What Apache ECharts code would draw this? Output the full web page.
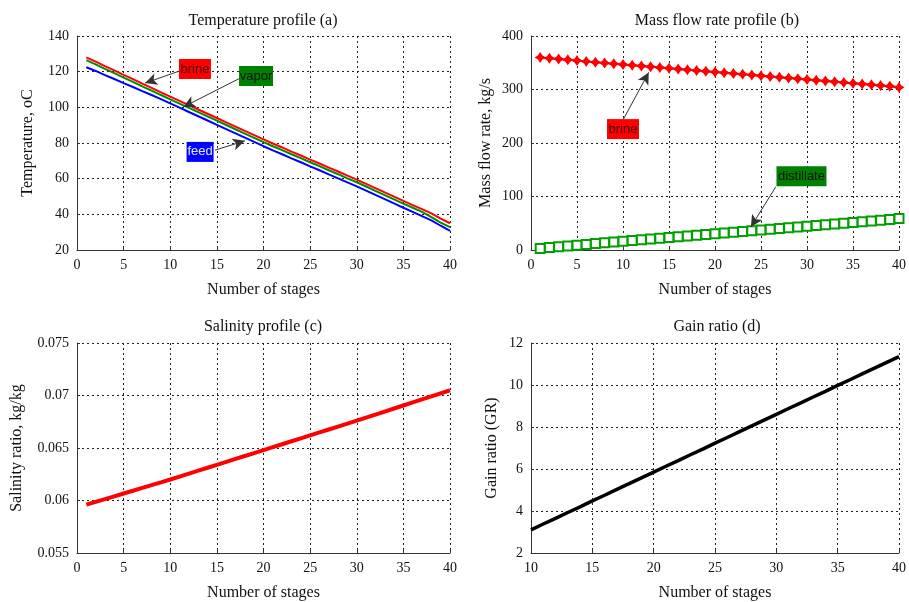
<!DOCTYPE html>
<html>
<head>
<meta charset="utf-8">
<script src="https://cdn.jsdelivr.net/npm/echarts@6/dist/echarts.min.js"></script>
<style>
  html, body { margin: 0; padding: 0; background: #fff; }
  #main { width: 909px; height: 602px; }
</style>
</head>
<body>
<div id="main"></div>
<script>
// stages 1..40 (panels a, b, c)
const stages = [1,2,3,4,5,6,7,8,9,10,11,12,13,14,15,16,17,18,19,20,
  21,22,23,24,25,26,27,28,29,30,31,32,33,34,35,36,37,38,39,40];
// stages 10..40 (panel d)
const gainStages = [10,11,12,13,14,15,16,17,18,19,20,21,22,23,24,25,
  26,27,28,29,30,31,32,33,34,35,36,37,38,39,40];

// (a) temperature profile, oC
const brineTemp = [128.0,125.6,123.1,120.7,118.2,115.8,113.3,110.9,108.4,106.0,
  103.6,101.2,98.8,96.4,94.0,91.6,89.2,86.8,84.4,82.0,
  79.7,77.5,75.2,73.0,70.7,68.5,66.2,64.0,61.7,59.5,
  57.1,54.7,52.3,49.9,47.5,45.2,42.9,40.5,37.6,35.0];
const vaporTemp = [126.5,124.1,121.6,119.2,116.7,114.3,111.8,109.4,106.9,104.5,
  102.1,99.7,97.3,94.9,92.5,90.1,87.7,85.3,82.9,80.5,
  78.2,76.0,73.7,71.5,69.2,67.0,64.7,62.5,60.2,58.0,
  55.6,53.2,50.8,48.4,46.0,43.7,41.4,38.4,35.3,32.8];
const feedTemp = [122.5,120.4,118.1,115.9,113.6,111.4,109.1,106.9,104.6,102.2,
  99.8,97.4,95.0,92.6,90.2,87.8,85.4,83.0,80.6,78.2,
  75.9,73.7,71.4,69.2,66.9,64.7,62.4,60.2,57.9,55.7,
  53.3,50.9,48.5,46.1,43.7,41.4,39.0,36.6,33.6,30.7];

// (b) mass flow rate, kg/s
const brineFlow = [360.0,358.5,357.0,355.5,354.0,352.5,351.0,349.6,348.2,346.8,
  345.4,344.0,342.6,341.2,339.8,338.4,337.0,335.6,334.2,332.8,
  331.4,330.0,328.6,327.2,325.8,324.4,323.0,321.6,320.2,318.8,
  317.4,316.0,314.6,313.2,311.8,310.4,309.0,307.6,306.0,304.0];
const distillateFlow = [3.0,4.5,6.0,7.5,9.0,10.5,12.0,13.4,14.8,16.2,
  17.6,19.0,20.4,21.8,23.2,24.6,26.0,27.4,28.8,30.2,
  31.6,33.0,34.4,35.8,37.2,38.6,40.0,41.4,42.8,44.2,
  45.6,47.0,48.4,49.8,51.2,52.6,54.0,55.4,57.0,59.0];

// (c) salinity ratio, kg/kg
const salinity = [0.05960,0.05987,0.06013,0.06040,0.06067,0.06093,0.06120,0.06147,0.06173,0.06200,
  0.06228,0.06256,0.06284,0.06312,0.06340,0.06368,0.06396,0.06424,0.06452,0.06480,
  0.06508,0.06536,0.06564,0.06592,0.06620,0.06648,0.06676,0.06704,0.06732,0.06760,
  0.06789,0.06818,0.06847,0.06876,0.06905,0.06934,0.06963,0.06992,0.07021,0.07050];

// (d) gain ratio
const gainRatio = [3.10,3.38,3.65,3.93,4.20,4.48,4.75,5.03,5.30,5.58,
  5.85,6.13,6.40,6.68,6.95,7.23,7.50,7.78,8.05,8.33,
  8.60,8.88,9.15,9.43,9.70,9.98,10.25,10.53,10.80,11.08,11.35];

const pairs = (xs, ys) => xs.map((x, i) => [x, ys[i]]);

const serif = 'Liberation Serif';
const sans = 'Liberation Sans';

function xAx(idx, min) {
  return {
    type: 'value', gridIndex: idx, min: min, max: 40, interval: 5,
    name: 'Number of stages', nameLocation: 'middle', nameGap: 32,
    nameTextStyle: { fontFamily: serif, fontSize: 16, color: '#111' },
    axisLine: { show: true, onZero: false, lineStyle: { color: '#333', width: 1 } },
    axisTick: { show: true, inside: true, length: 3, lineStyle: { color: '#333' } },
    axisLabel: { fontFamily: serif, fontSize: 14, color: '#111', margin: 8 },
    splitLine: { show: true, lineStyle: { color: '#222', type: [2, 3], width: 1 } }
  };
}
function yAx(idx, min, max, interval, name, gap) {
  return {
    type: 'value', gridIndex: idx, min: min, max: max, interval: interval,
    name: name, nameLocation: 'middle', nameGap: gap,
    nameTextStyle: { fontFamily: serif, fontSize: 16, color: '#111' },
    axisLine: { show: true, lineStyle: { color: '#333', width: 1 } },
    axisTick: { show: true, inside: true, length: 3, lineStyle: { color: '#333' } },
    axisLabel: { fontFamily: serif, fontSize: 14, color: '#111', margin: 8 },
    splitLine: { show: true, lineStyle: { color: '#222', type: [2, 3], width: 1 } }
  };
}
function title(text, x, y) {
  return { text: text, left: x, top: y, textAlign: 'center', padding: 0,
    textStyle: { fontFamily: serif, fontSize: 16, fontWeight: 'normal', color: '#111' } };
}
function arrow(from, to) {
  return [{ coord: from }, { coord: to }];
}
function tag(text, at, bg, fg, w) {
  return {
    coord: at, value: 0, symbol: 'rect', symbolSize: [w, 20],
    itemStyle: { color: bg },
    label: { show: true, formatter: text, color: fg, fontFamily: sans, fontSize: 13 }
  };
}
const arrowStyle = {
  silent: true, symbol: ['none', 'arrow'], symbolSize: [9, 12],
  lineStyle: { color: '#333', width: 1, type: 'solid' },
  label: { show: false }, emphasis: { disabled: true }
};

const chart = echarts.init(document.getElementById('main'));
chart.setOption({
  backgroundColor: '#fff',
  animation: false,
  title: [
    title('Temperature profile (a)', 263, 13),
    title('Mass flow rate profile (b)', 717, 13),
    title('Salinity profile (c)', 263, 319),
    title('Gain ratio (d)', 717, 319)
  ],
  grid: [
    { left: 77, top: 36, width: 373, height: 214 },
    { left: 531, top: 36, width: 372, height: 214 },
    { left: 77, top: 343, width: 373, height: 212 },
    { left: 531, top: 343, width: 372, height: 212 }
  ],
  xAxis: [xAx(0, 0), xAx(1, 0), xAx(2, 0), xAx(3, 10)],
  yAxis: [
    yAx(0, 20, 140, 20, 'Temperature, oC', 41),
    yAx(1, 0, 400, 100, 'Mass flow rate, kg/s', 37),
    yAx(2, 0.055, 0.075, 0.005, 'Salinity ratio, kg/kg', 52),
    yAx(3, 2, 12, 2, 'Gain ratio (GR)', 31)
  ],
  series: [
    {
      name: 'feed', type: 'line', xAxisIndex: 0, yAxisIndex: 0,
      data: pairs(stages, feedTemp), showSymbol: false,
      lineStyle: { color: '#0000ff', width: 2 },
      markLine: Object.assign({ data: [arrow([14.8, 76.0], [18.0, 81.2])] }, arrowStyle),
      markPoint: { silent: true, data: [tag('feed', [13.2, 75.0], '#0000ff', '#e8e8ff', 27)] }
    },
    {
      name: 'vapor', type: 'line', xAxisIndex: 0, yAxisIndex: 0,
      data: pairs(stages, vaporTemp), showSymbol: false,
      lineStyle: { color: '#008c00', width: 2 },
      markLine: Object.assign({ data: [arrow([17.5, 116.4], [11.4, 100.2])] }, arrowStyle),
      markPoint: { silent: true, data: [tag('vapor', [19.2, 117.6], '#008000', '#111', 34)] }
    },
    {
      name: 'brine', type: 'line', xAxisIndex: 0, yAxisIndex: 0,
      data: pairs(stages, brineTemp), showSymbol: false,
      lineStyle: { color: '#ff0000', width: 2 },
      markLine: Object.assign({ data: [arrow([11.0, 120.4], [7.3, 113.6])] }, arrowStyle),
      markPoint: { silent: true, data: [tag('brine', [12.65, 121.5], '#ff0000', '#400', 32)] }
    },
    {
      name: 'brine flow', type: 'line', xAxisIndex: 1, yAxisIndex: 1,
      data: pairs(stages, brineFlow),
      symbol: 'path://M0,-10 L4,-4 L10,0 L4,4 L0,10 L-4,4 L-10,0 L-4,-4 Z',
      symbolSize: [11, 11],
      itemStyle: { color: '#ff0000' },
      lineStyle: { color: '#ff0000', width: 2 },
      markLine: Object.assign({ data: [arrow([10.0, 243], [12.8, 332])] }, arrowStyle),
      markPoint: { silent: true, data: [tag('brine', [10.0, 226], '#ff0000', '#400', 32)] }
    },
    {
      name: 'distillate', type: 'line', xAxisIndex: 1, yAxisIndex: 1,
      data: pairs(stages, distillateFlow),
      symbol: 'emptyRect', symbolSize: 9,
      itemStyle: { color: '#00a000', borderWidth: 2 },
      lineStyle: { color: '#00a000', width: 2 },
      markLine: Object.assign({ data: [arrow([26.6, 118], [23.9, 43])] }, arrowStyle),
      markPoint: { silent: true, data: [tag('distillate', [29.4, 138], '#008000', '#111', 50)] }
    },
    {
      name: 'salinity', type: 'line', xAxisIndex: 2, yAxisIndex: 2,
      data: pairs(stages, salinity), showSymbol: false,
      lineStyle: { color: '#ff0000', width: 4 }
    },
    {
      name: 'gain ratio', type: 'line', xAxisIndex: 3, yAxisIndex: 3,
      data: pairs(gainStages, gainRatio), showSymbol: false,
      lineStyle: { color: '#000', width: 3.5 }
    }
  ]
});
</script>
</body>
</html>
